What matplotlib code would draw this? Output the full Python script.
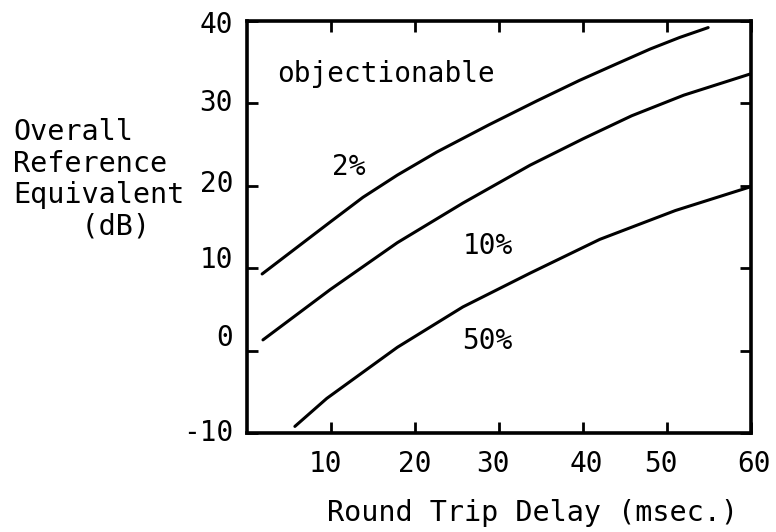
import matplotlib
matplotlib.use("Agg")
import matplotlib.pyplot as plt
import matplotlib.transforms as mtransforms

# ---- data ----
delay_2 = [1.8, 9.9, 13.8, 17.9, 22.6, 28.8, 34.5, 39.6, 44.0, 48.0, 51.5, 54.9]
ore_2 = [9.3, 15.6, 18.6, 21.3, 24.1, 27.4, 30.3, 32.8, 34.8, 36.6, 38.0, 39.2]

delay_10 = [1.9, 9.9, 17.9, 25.7, 33.7, 40.0, 45.8, 52.0, 60.0]
ore_10 = [1.3, 7.4, 13.1, 17.9, 22.5, 25.7, 28.5, 31.0, 33.6]

delay_50 = [5.7, 9.5, 17.9, 25.7, 33.7, 42.0, 51.0, 60.0]
ore_50 = [-9.2, -5.8, 0.4, 5.3, 9.4, 13.5, 17.0, 19.9]

curve_labels = ["2%", "10%", "50%"]
curve_label_pos = [(12.1, 22.3), (28.7, 12.7), (28.6, 1.2)]

xticks = [10, 20, 30, 40, 50, 60]
xtick_labels = ["10", "20", "30", "40", "50", "60"]
yticks = [-10, 0, 10, 20, 30, 40]
ytick_labels = ["-10", "0", "10", "20", "30", "40"]

xlabel = "Round Trip Delay (msec.)"
ylabel_lines = ["Overall", "Reference", "Equivalent", "    (dB)"]
region_label = "objectionable"

# ---- styling ----
FONT = "DejaVu Sans Mono"
FS = 20.5
plt.rcParams["font.family"] = [FONT, "DejaVu Sans"]

fig = plt.figure(figsize=(7.76, 5.32), dpi=100)
ax = fig.add_axes([247 / 776, 1 - 433 / 532, 504 / 776, 412 / 532])

for xs, ys in [(delay_2, ore_2), (delay_10, ore_10), (delay_50, ore_50)]:
    ax.plot(xs, ys, color="black", lw=2.2, solid_capstyle="round",
            solid_joinstyle="round")

for lab, (x, y) in zip(curve_labels, curve_label_pos):
    ax.text(x, y, lab, fontsize=20, ha="center", va="center")

ax.text(3.6, 32.6, region_label, fontsize=20, ha="left", va="baseline")

ax.set_xlim(0, 60)
ax.set_ylim(-10, 40)
ax.set_xticks(xticks)
ax.set_xticklabels(xtick_labels, fontsize=20)
ax.set_yticks(yticks)
ax.set_yticklabels(ytick_labels, fontsize=20)

for s in ax.spines.values():
    s.set_linewidth(2.6)
ax.tick_params(axis="both", direction="in", length=8, width=2.0,
               top=True, right=True)
ax.tick_params(axis="x", pad=12)
ax.tick_params(axis="y", pad=10)

# hand-lettered label offsets (pixels)
x_off = [-6, 0, -6, 3, -6, 3]
y_off = [3, 16, 11, 5, 3, -1]
for lab, dx in zip(ax.get_xticklabels(), x_off):
    lab.set_transform(lab.get_transform() +
                      mtransforms.ScaledTranslation(dx / 100, 0, fig.dpi_scale_trans))
for lab, dy in zip(ax.get_yticklabels(), y_off):
    lab.set_transform(lab.get_transform() +
                      mtransforms.ScaledTranslation(0, dy / 100, fig.dpi_scale_trans))

ax.set_xlabel(xlabel, fontsize=FS)
ax.xaxis.set_label_coords(0.567, -0.160)

baselines = [140, 172, 203, 234]
for line, yb in zip(ylabel_lines, baselines):
    fig.text(13 / 776, 1 - yb / 532, line, fontsize=FS, ha="left", va="baseline")

fig.savefig("out.png", dpi=100)
